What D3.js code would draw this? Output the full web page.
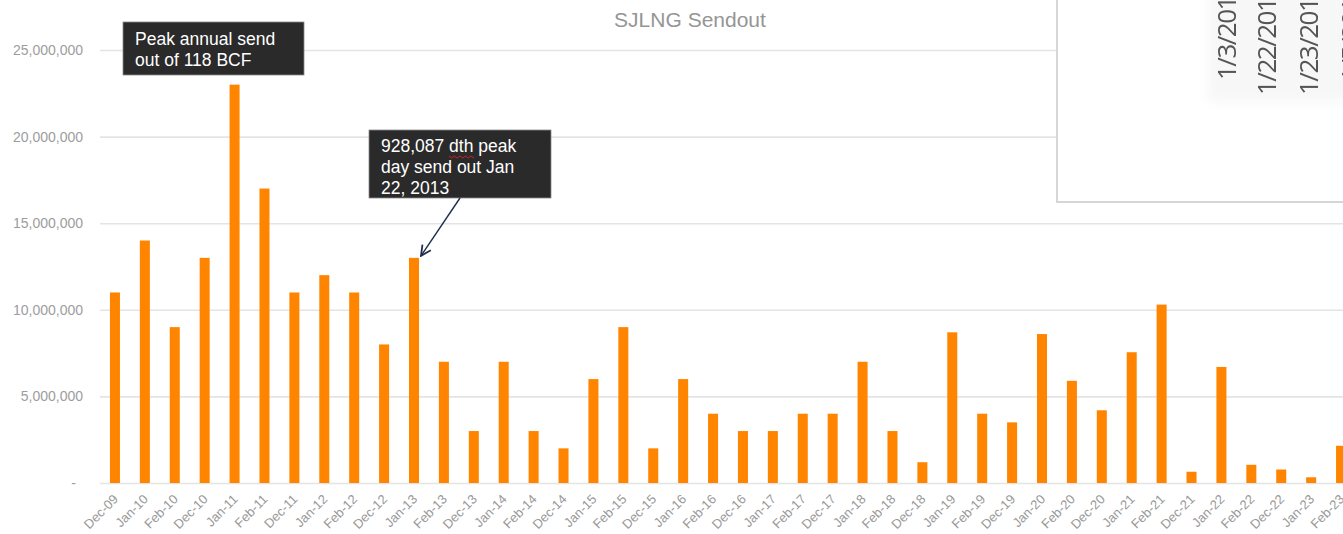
<!DOCTYPE html>
<html>
<head>
<meta charset="utf-8">
<script src="https://cdn.jsdelivr.net/npm/d3@7"></script>
<style>
  body { margin: 0; background: #fff; }
  svg { display: block; font-family: "Liberation Sans", Arial, sans-serif; }
</style>
</head>
<body>
<svg id="chart" width="1343" height="534"></svg>
<script>
// month labels, one per bar
var categories = [
  "Dec-09", "Jan-10", "Feb-10", "Dec-10", "Jan-11", "Feb-11", "Dec-11", "Jan-12", "Feb-12",
  "Dec-12", "Jan-13", "Feb-13", "Dec-13", "Jan-14", "Feb-14", "Dec-14", "Jan-15", "Feb-15",
  "Dec-15", "Jan-16", "Feb-16", "Dec-16", "Jan-17", "Feb-17", "Dec-17", "Jan-18", "Feb-18",
  "Dec-18", "Jan-19", "Feb-19", "Dec-19", "Jan-20", "Feb-20", "Dec-20", "Jan-21", "Feb-21",
  "Dec-21", "Jan-22", "Feb-22", "Dec-22", "Jan-23", "Feb-23"
];

// sendout (dth)
var sendout = [
  11000000, 14000000, 9000000, 13000000, 23000000, 17000000, 11000000, 12000000, 11000000,
  8000000, 13000000, 7000000, 3000000, 7000000, 3000000, 2000000, 6000000, 9000000,
  2000000, 6000000, 4000000, 3000000, 3000000, 4000000, 4000000, 7000000, 3000000,
  1200000, 8700000, 4000000, 3500000, 8600000, 5900000, 4200000, 7550000, 10300000,
  650000, 6700000, 1050000, 780000, 330000, 2150000
];

var yTicks = [0, 5000000, 10000000, 15000000, 20000000, 25000000];

// bits of another slide sticking out at the top right
var overlayDates = ["1/3/2013", "1/22/2013", "1/23/2013", "1/5/2014"];

var svg = d3.select('#chart');

var x = d3.scaleBand()
  .domain(categories)
  .range([100, 1356])
  .paddingInner(0.665)
  .paddingOuter(0.3325);

var y = d3.scaleLinear()
  .domain([0, 25000000])
  .range([483, 50]);

var fmt = d3.format(',');

// gridlines + y labels
var yAxis = svg.append('g')
  .attr('transform', 'translate(100,0)')
  .call(d3.axisLeft(y)
    .tickValues(yTicks)
    .tickSize(-1260)
    .tickPadding(17)
    .tickFormat(function(d) { return d === 0 ? '-' : fmt(d); }));

yAxis.select('.domain').remove();
yAxis.selectAll('.tick line')
  .attr('stroke', '#e4e4e4')
  .attr('stroke-width', 1.6);
yAxis.selectAll('.tick text')
  .attr('fill', '#9d9d9d')
  .style('font-size', '14px')
  .style('font-family', '"Liberation Sans", Arial, sans-serif')
  .attr('dx', function(d) { return d === 0 ? -7 : 0; });

// bars
svg.append('g').selectAll('rect')
  .data(categories)
  .join('rect')
  .attr('x', function(d) { return x(d); })
  .attr('width', x.bandwidth())
  .attr('y', function(d, i) { return y(sendout[i]); })
  .attr('height', function(d, i) { return y(0) - y(sendout[i]); })
  .attr('fill', '#ff8500');

// x labels
var xAxis = svg.append('g')
  .attr('transform', 'translate(0,483)')
  .call(d3.axisBottom(x).tickSize(0));

xAxis.select('.domain').remove();
xAxis.selectAll('.tick text')
  .attr('y', 0)
  .attr('dy', 0)
  .attr('transform', 'translate(4,17) rotate(-45)')
  .attr('text-anchor', 'end')
  .attr('fill', '#999')
  .style('font-size', '13px')
  .style('font-family', '"Liberation Sans", Arial, sans-serif');

// title
svg.append('text')
  .attr('x', 690)
  .attr('y', 27)
  .attr('text-anchor', 'middle')
  .attr('fill', '#959595')
  .style('font-size', '21px')
  .text('SJLNG Sendout');

// pasted box at top right
var over = svg.append('g');
over.append('rect')
  .attr('x', 1057).attr('y', -10)
  .attr('width', 300).attr('height', 212)
  .attr('fill', '#fff')
  .attr('stroke', '#d6d6d6')
  .attr('stroke-width', 2);

var defs = svg.append('defs');
defs.append('filter').attr('id', 'soft')
  .append('feGaussianBlur').attr('stdDeviation', 0.7);
defs.append('filter').attr('id', 'halo')
  .append('feGaussianBlur').attr('stdDeviation', 6);

over.append('rect')
  .attr('x', 1208).attr('y', -10)
  .attr('width', 150).attr('height', 112)
  .attr('fill', '#f7f7f7')
  .attr('filter', 'url(#halo)');

var colX = [1236, 1276, 1318, 1360];
var colY = [80, 95, 95, 82];
over.selectAll('text.date')
  .data(overlayDates)
  .join('text')
  .attr('class', 'date')
  .attr('transform', function(d, i) { return 'translate(' + colX[i] + ',' + colY[i] + ') rotate(-90)'; })
  .attr('fill', '#555')
  .attr('filter', 'url(#soft)')
  .attr('letter-spacing', -1.5)
  .style('font-family', '"Open Sans", "Noto Sans", sans-serif')
  .style('font-size', '26px')
  .text(function(d) { return d; });

// callouts
function callout(x0, y0, w, h, lines, lineY) {
  var g = svg.append('g');
  g.append('rect')
    .attr('x', x0).attr('y', y0)
    .attr('width', w).attr('height', h)
    .attr('fill', '#2a2a2a')
    .attr('stroke', '#8a8a8a')
    .attr('stroke-width', 0.8);
  g.selectAll('text')
    .data(lines)
    .join('text')
    .attr('x', x0 + 12)
    .attr('y', function(d, i) { return lineY[i]; })
    .attr('fill', '#fff')
    .style('font-size', '17.5px')
    .text(function(d) { return d; });
  return g;
}

callout(123, 22, 181, 53, ['Peak annual send', 'out of 118 BCF'], [45, 66]);
callout(369, 130, 182, 68, ['928,087 dth peak', 'day send out Jan', '22, 2013'], [152, 173, 194]);

// spell-check squiggle under "dth"
var sq = d3.path();
sq.moveTo(449, 156);
for (var k = 0; k < 9; k++) {
  sq.lineTo(451.5 + k * 2.8, k % 2 === 0 ? 158 : 156);
}
svg.append('path')
  .attr('d', sq.toString())
  .attr('fill', 'none')
  .attr('stroke', '#e02020')
  .attr('stroke-width', 0.9);

// arrow to the Jan-13 bar
defs.append('marker')
  .attr('id', 'head')
  .attr('viewBox', '0 0 10 10')
  .attr('refX', 9).attr('refY', 5)
  .attr('markerWidth', 9).attr('markerHeight', 9)
  .attr('orient', 'auto')
  .append('path')
  .attr('d', 'M1,1 L9,5 L1,9')
  .attr('fill', 'none')
  .attr('stroke', '#1f2d4f')
  .attr('stroke-width', 1.4);

svg.append('line')
  .attr('x1', 460).attr('y1', 198)
  .attr('x2', x('Jan-13') + x.bandwidth() / 2 + 7).attr('y2', y(sendout[10]) - 2)
  .attr('stroke', '#1f2d4f')
  .attr('stroke-width', 1.4)
  .attr('marker-end', 'url(#head)');
</script>
</body>
</html>
